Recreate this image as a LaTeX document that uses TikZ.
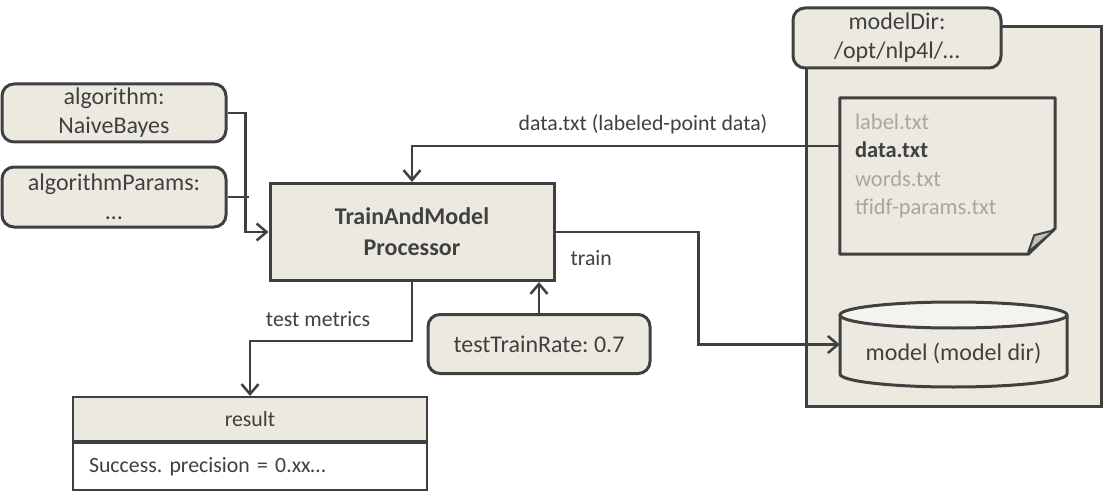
\documentclass[tikz,border=0pt]{standalone}
\usepackage{fontspec}
\setmainfont{Carlito}
\usepackage{xcolor}
\usetikzlibrary{arrows.meta,positioning,calc}
\frenchspacing

\definecolor{boxFill}{RGB}{236,234,224}
\definecolor{lineDark}{RGB}{64,64,64}
\definecolor{fileGray}{RGB}{166,166,166}
\definecolor{capFill}{RGB}{244,243,237}
\definecolor{foldFill}{RGB}{192,192,184}

\begin{document}
\begin{tikzpicture}[
    x=1pt, y=1pt,
    font=\fontsize{24}{29}\selectfont, text=lineDark,
    paramBox/.style={
        rectangle, rounded corners=12pt, draw=lineDark, line width=3pt,
        fill=boxFill, align=center, inner sep=0pt,
        minimum width=224pt, minimum height=58pt
    },
    procBox/.style={
        rectangle, draw=lineDark, line width=3pt, fill=boxFill, align=center,
        font=\fontsize{24}{31}\selectfont\bfseries,
        minimum width=284pt, minimum height=97pt
    },
    resultHead/.style={
        rectangle, draw=lineDark, line width=2pt, fill=boxFill,
        font=\fontsize{21.8}{26}\selectfont,
        minimum width=354pt, minimum height=44pt
    },
    resultBody/.style={
        rectangle, draw=lineDark, line width=2pt, fill=white,
        font=\fontsize{21.8}{26}\selectfont, align=left,
        text width=322pt, inner xsep=16pt, minimum height=47pt
    },
    dirBox/.style={
        rectangle, draw=lineDark, line width=3pt, fill=boxFill,
        minimum width=295pt, minimum height=379pt
    },
    docNode/.style={
        rectangle, draw=none, minimum width=215pt, minimum height=156pt
    },
    docLine/.style={
        line width=3pt, draw=lineDark, line join=round
    },
    cylText/.style={
        rectangle, draw=none, minimum width=227pt, minimum height=50pt
    },
    flowEdge/.style={
        -{Straight Barb[length=10pt, width=17pt]}, line width=2.5pt, draw=lineDark
    },
    flowLine/.style={
        line width=2.5pt, draw=lineDark
    },
    flowLabel/.style={
        font=\fontsize{21.8}{26}\selectfont, text=lineDark
    }
]
\useasboundingbox (0, 0) rectangle (1103, -492);

% Model directory (right)
\node[dirBox] (dirBox) at (953.5, -216.5) {};
\node[paramBox, minimum width=208pt, minimum height=60pt] (dirTab) at (897, -38) {modelDir:\\/opt/nlp4l/…};

% Data files inside the directory
\node[docNode] (file) at (947.5, -176) {};
\draw[docLine, fill=boxFill] (file.north west) -- (file.north east) -- ([yshift=26pt]file.south east)
    -- ([xshift=-27pt]file.south east) -- (file.south west) -- cycle;
\draw[line width=2pt, draw=lineDark, fill=foldFill, line join=round] ([xshift=-27pt, yshift=2pt]file.south east)
    -- ([xshift=-21pt, yshift=19pt]file.south east) -- ([xshift=-1pt, yshift=24pt]file.south east) -- cycle;
\node[anchor=north west, align=left, inner sep=0pt, text=fileGray, font=\fontsize{22.5}{28.3}\selectfont] (fileList)
    at ([xshift=15pt, yshift=-16pt]file.north west)
    {label.txt\\{\bfseries\color{lineDark}data.txt}\\words.txt\\tfidf-params.txt};

% Model store (cylinder)
\coordinate (modelPos) at (953.5, -344.5);
\draw[docLine, fill=boxFill] ($(modelPos)+(-113.5,29.5)$) -- ($(modelPos)+(-113.5,-29.5)$)
    arc[start angle=180, end angle=360, x radius=113.5, y radius=13] -- ($(modelPos)+(113.5,29.5)$) -- cycle;
\draw[docLine, fill=capFill] ($(modelPos)+(0,29.5)$) ellipse [x radius=113.5, y radius=13];
\node[cylText] (model) at ($(modelPos)+(0,-8.5)$) {model (model dir)};

% Inputs (left)
\node[paramBox] (algo) at (114, -113) {algorithm:\\NaiveBayes};
\node[paramBox, minimum height=60pt] (params) at (114, -197) {algorithmParams:\\…};

% Processor
\node[procBox] (proc) at (412, -232) {TrainAndModel\\Processor};
\node[paramBox, minimum width=222pt, minimum height=59pt] (rate) at (539, -344) {testTrainRate: 0.7};

% Result
\node[resultHead] (resHead) at (250, -419) {result};
\node[resultBody, anchor=north] (resBody) at (resHead.south) {Success. precision = 0.xx…};

% Connectors
\draw[flowEdge] (algo.east) -| ([xshift=-23pt]proc.west) -- (proc.west);
\draw[flowLine] (params.east) -- ++(21, 0);
\draw[flowEdge] ([yshift=30pt]file.west) -| node[flowLabel, pos=0.23, above=7pt] {data.txt (labeled-point data)} (proc.north);
\draw[flowEdge] (proc.east) -- node[flowLabel, pos=0.25, below=14pt] {train} ++(143, 0) |- ([yshift=8.5pt]model.west);
\draw[flowEdge] (rate.north) -- (rate.north |- proc.south);
\draw[flowEdge] (proc.south) -- ++(0, -59) -| node[flowLabel, pos=0.29, above=10pt] {test metrics} (resHead.north);

\end{tikzpicture}
\end{document}
